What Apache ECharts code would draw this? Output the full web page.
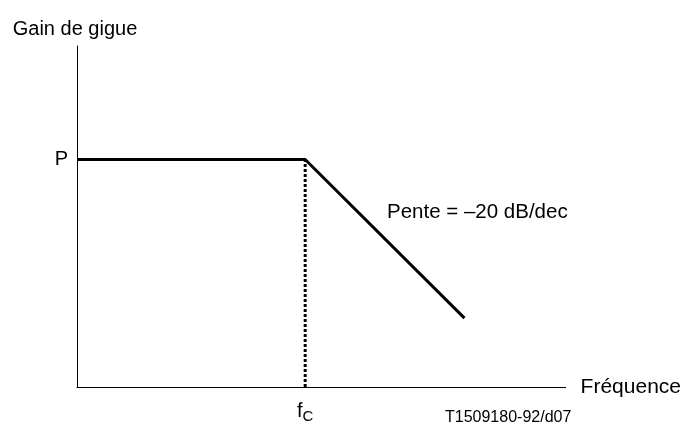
<!DOCTYPE html>
<html>
<head>
<meta charset="utf-8">
<script src="https://cdn.jsdelivr.net/npm/echarts@6/dist/echarts.min.js"></script>
<style>
    html, body { margin: 0; padding: 0; background: #fff; }
    #chart { width: 684px; height: 429px; }
</style>
</head>
<body>
<div id="chart"></div>
<script>
// 频率轴（0-100 相对单位）
var freq      = [0, 46.7, 79.3];
// 增益（P 平台后以 -20 dB/dec 下降）
var gain      = [66.7, 66.7, 20.2];
// 截止频率 fc 的虚线
var cutFreq   = [46.7, 46.7];
var cutGain   = [0, 66.7];
// 刻度标签
var yTickVals = [66.7];
var xTickVals = [46.7];

var FONT = 'Liberation Sans, Arial, sans-serif';

function pairs( xs, ys ) {
    var out = [];
    for ( var i = 0; i < xs.length; i++ ){
        out.push( [ xs[ i ], ys[ i ] ] );
    }
    return out;
}

var myChart = echarts.init( document.getElementById( 'chart' ) );
var option = {
    animation: false,
    backgroundColor: '#fff',
    grid: { left: 77, right: 116, top: 46, bottom: 42 },
    xAxis: {
        type: 'value',
        min: 0,
        max: 100,
        name: 'Fréquence',
        nameLocation: 'end',
        nameGap: 15,
        nameTextStyle: { fontFamily: FONT, fontSize: 21, color: '#000' },
        axisLine: { lineStyle: { color: '#000', width: 1 } },
        axisTick: { show: false },
        splitLine: { show: false },
        axisLabel: {
            customValues: xTickVals,
            margin: 12,
            formatter: function () { return '{f|f}{c|C}'; },
            rich: {
                f: { fontFamily: FONT, fontSize: 20, color: '#000' },
                c: { fontFamily: FONT, fontSize: 15, color: '#000', padding: [ 10, 0, 0, 0 ] }
            }
        }
    },
    yAxis: {
        type: 'value',
        min: 0,
        max: 100,
        name: 'Gain de gigue',
        nameLocation: 'end',
        nameGap: 7,
        nameTextStyle: { fontFamily: FONT, fontSize: 20, color: '#000', padding: [ 0, 4, 0, 0 ] },
        axisLine: { lineStyle: { color: '#000', width: 1 } },
        axisTick: { show: false },
        splitLine: { show: false },
        axisLabel: {
            customValues: yTickVals,
            margin: 9,
            fontFamily: FONT,
            fontSize: 20,
            color: '#000',
            formatter: function () { return 'P'; }
        }
    },
    graphic: [
        {
            type: 'text',
            left: 387,
            top: 202,
            style: { text: 'Pente = \u201320 dB/dec', font: '20.5px ' + FONT, fill: '#000' }
        },
        {
            type: 'text',
            left: 445,
            top: 410,
            style: { text: 'T1509180-92/d07', font: '16px ' + FONT, fill: '#000' }
        }
    ],
    series: [
        {
            type: 'line',
            data: pairs( freq, gain ),
            symbol: 'none',
            lineStyle: { color: '#000', width: 3 }
        },
        {
            type: 'line',
            data: pairs( cutFreq, cutGain ),
            symbol: 'none',
            lineStyle: { color: '#000', width: 3, type: [ 3, 2 ] }
        }
    ]
};
myChart.setOption( option );
</script>
</body>
</html>
